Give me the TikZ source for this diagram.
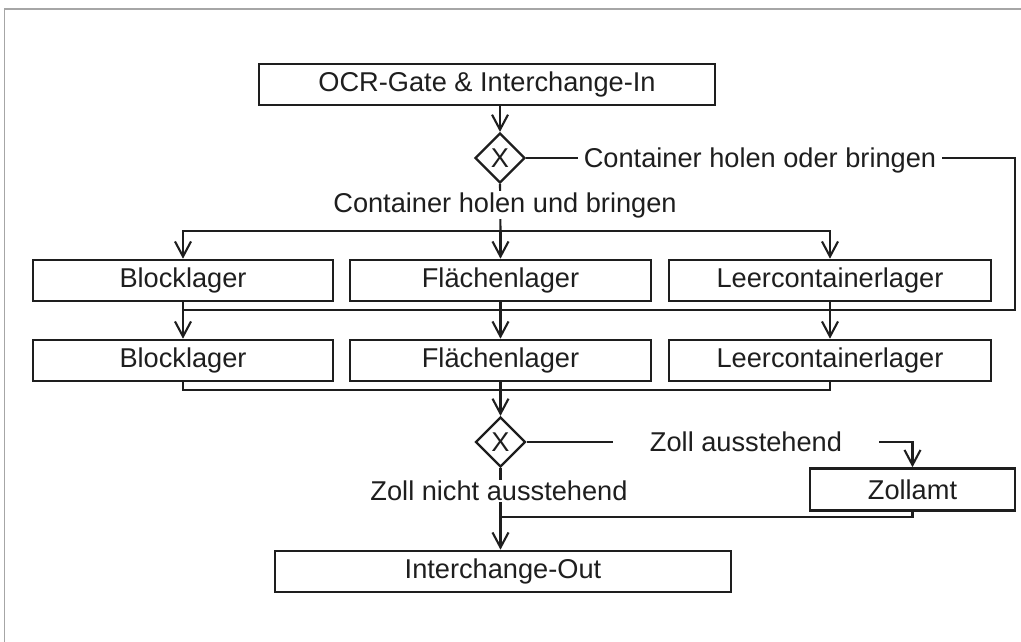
\documentclass[tikz,border=0pt]{standalone}
\usepackage{fontspec}
\setmainfont{Liberation Sans}
\usetikzlibrary{arrows.meta,shapes.geometric}
\definecolor{ink}{HTML}{1E1E1E}
\tikzset{
  box/.style={draw=ink, line width=2.6pt, inner sep=0pt, minimum height=41pt, text=ink, anchor=center},
  gate/.style={draw=ink, shape=diamond, line width=2.2pt, inner sep=0pt, minimum width=50pt, minimum height=50pt, text=ink},
  conn/.style={draw=ink, line width=2.1pt},
  arr/.style={conn, -{Straight Barb[length=15pt,width=16pt,line width=2.1pt]}},
  lab/.style={fill=white, text=ink, inner xsep=0pt, inner ysep=1pt}
}
\begin{document}
\begin{tikzpicture}[x=1pt,y=-1pt,font=\fontsize{27.2}{31}\selectfont]
\useasboundingbox (0,0) rectangle (1021,642);
\draw[gray!70, line width=1.5pt] (4.5,642) -- (4.5,9) -- (1021,9);

% nodes
\node[box, minimum width=456pt] (ocr) at (487,84.5) {OCR-Gate \& Interchange-In};
\node[gate] (g1) at (500,158) {X};
\node[box, minimum width=300pt] (bl1) at (183,280.5) {Blocklager};
\node[box, minimum width=301pt] (fl1) at (500.5,280.5) {Flächenlager};
\node[box, minimum width=322pt] (lc1) at (830,280.5) {Leercontainerlager};
\node[box, minimum width=300pt] (bl2) at (183,360.5) {Blocklager};
\node[box, minimum width=301pt] (fl2) at (500.5,360.5) {Flächenlager};
\node[box, minimum width=322pt] (lc2) at (830,360.5) {Leercontainerlager};
\node[gate] (g2) at (500.5,442) {X};
\node[box, minimum width=205pt, minimum height=42pt] (zoll) at (912.5,489.5) {Zollamt};
\node[box, minimum width=456pt] (out) at (503,571.5) {Interchange-Out};

\coordinate (j1) at (500.5,231);
\coordinate (j2) at (500.5,310);
\coordinate (c1) at (1015,158);
\coordinate (j3) at (500.5,390);
\coordinate (j4) at (500.5,517);

% connectors
\draw[arr] (ocr.south -| g1.north) -- (g1.north);
\draw[conn] (g1.south) -- (j1);
\draw[arr] (j1) -| (bl1.north);
\draw[arr] (j1) -- (fl1.north);
\draw[arr] (j1) -| (lc1.north);
\draw[conn] (g1.east) -- (c1) |- (bl1.south |- j2);
\draw[arr] (bl1.south) -- (bl2.north);
\draw[arr] (fl1.south) -- (fl2.north);
\draw[arr] (lc1.south) -- (lc2.north);
\draw[conn] (bl2.south) |- (j3) -| (lc2.south);
\draw[conn] (fl2.south) -- (j3);
\draw[arr] (j3) -- (g2.north);
\draw[arr] (g2.east) -| (zoll.north);
\draw[conn] (zoll.south) |- (j4);
\draw[arr] (g2.south) -- (g2.south |- out.north);

% labels
\node[lab] (l1) at (505,205) {Container holen und bringen};
\node[lab, inner xsep=6pt] (l2) at (760,160) {Container holen oder bringen};
\node[lab, inner xsep=37pt] (l3) at (746,442) {Zoll ausstehend};
\node[lab] (l4) at (499,491) {Zoll nicht ausstehend};
\end{tikzpicture}
\end{document}
